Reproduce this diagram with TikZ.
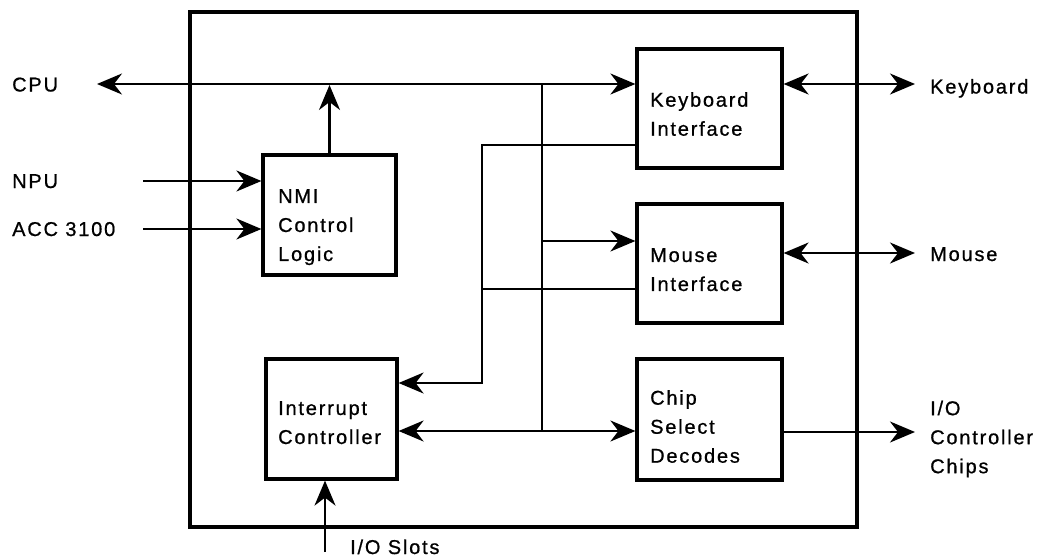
\documentclass[tikz,border=0pt]{standalone}
\usepackage{fontspec}
\setmainfont{Liberation Sans}[LetterSpace=9,FakeBold=0.8]
\usetikzlibrary{arrows.meta,calc}
\begin{document}
\begin{tikzpicture}[x=1pt,y=-1pt,
  font=\fontsize{20}{29}\selectfont,
  box/.style={draw, line width=3.2pt, rectangle, inner sep=0pt},
  lbl/.style={align=left, anchor=north west, inner sep=0pt},
  txt/.style={anchor=base west, inner sep=0pt},
  conn/.style={line width=2.2pt},
  >={Stealth[length=25pt,width=21pt,inset=8pt]}]
\useasboundingbox (0,0) rectangle (1039,557);
% outer frame
\draw[line width=3.8pt] (190,12) rectangle (857,527);
% boxes
\node[box, minimum width=145pt, minimum height=119pt] (kb) at (709.5,108.5) {};
\node[box, minimum width=145pt, minimum height=119pt] (ms) at (709.5,263.5) {};
\node[box, minimum width=145pt, minimum height=121pt] (cs) at (709.5,419.5) {};
\node[box, minimum width=133pt, minimum height=120pt] (nmi) at (329.5,215) {};
\node[box, minimum width=131pt, minimum height=120pt] (ic) at (331.5,419) {};
% box texts
\node[lbl] (kbt) at (650,92) {Keyboard\\Interface};
\node[lbl] (mst) at (650,248) {Mouse\\Interface};
\node[lbl] (cst) at (650,390) {Chip\\Select\\Decodes};
\node[lbl] (nmit) at (278,189) {NMI\\Control\\Logic};
\node[lbl] (ict) at (278,401) {Interrupt\\Controller};
% outside labels
\node[txt] (cpul) at (12,91.5) {CPU};
\node[txt] (npul) at (12,188) {NPU};
\node[txt] (accl) at (12,236) {ACC 3100};
\node[txt] (kbl) at (930,93.5) {Keyboard};
\node[txt] (msl) at (930,261) {Mouse};
\node[lbl] (iol) at (930,400.5) {I/O\\Controller\\Chips};
\node[txt] (slotl) at (350,554) {I/O Slots};
% coordinates
\coordinate (cpuA) at (97,84);
\coordinate (npuA) at (143,181);
\coordinate (accA) at (143,229);
\coordinate (bt) at (542,84);
\coordinate (bm) at (542,241);
\coordinate (bb) at (542,431);
\coordinate (j1) at (482,145);
\coordinate (j2) at (482,383);
\coordinate (j3) at (482,289);
\coordinate (kbo) at (915,84);
\coordinate (mso) at (915,253);
\coordinate (cso) at (915,432);
\coordinate (slot) at (325,552);
% connectors
\draw[conn,<->] (cpuA) -- (kb.west |- cpuA);
\draw[conn,->] (nmi.north) -- ($(nmi.north |- cpuA)+(0,1)$);
\draw[conn,->] (npuA) -- (nmi.west |- npuA);
\draw[conn,->] (accA) -- (nmi.west |- accA);
\draw[conn] (bt) -- (bb);
\draw[conn,->] (bm) -- (ms.west |- bm);
\draw[conn,->] (kb.west |- j1) -- (j1) -- (j2) -- (ic.east |- j2);
\draw[conn] (ms.west |- j3) -- (j3);
\draw[conn,<->] (ic.east |- bb) -- (cs.west |- bb);
\draw[conn,<->] (kb.east |- kbo) -- (kbo);
\draw[conn,<->] (ms.east |- mso) -- (mso);
\draw[conn,->] (cs.east |- cso) -- (cso);
\draw[conn,->] (slot) -- (slot |- ic.south);
\end{tikzpicture}
\end{document}
